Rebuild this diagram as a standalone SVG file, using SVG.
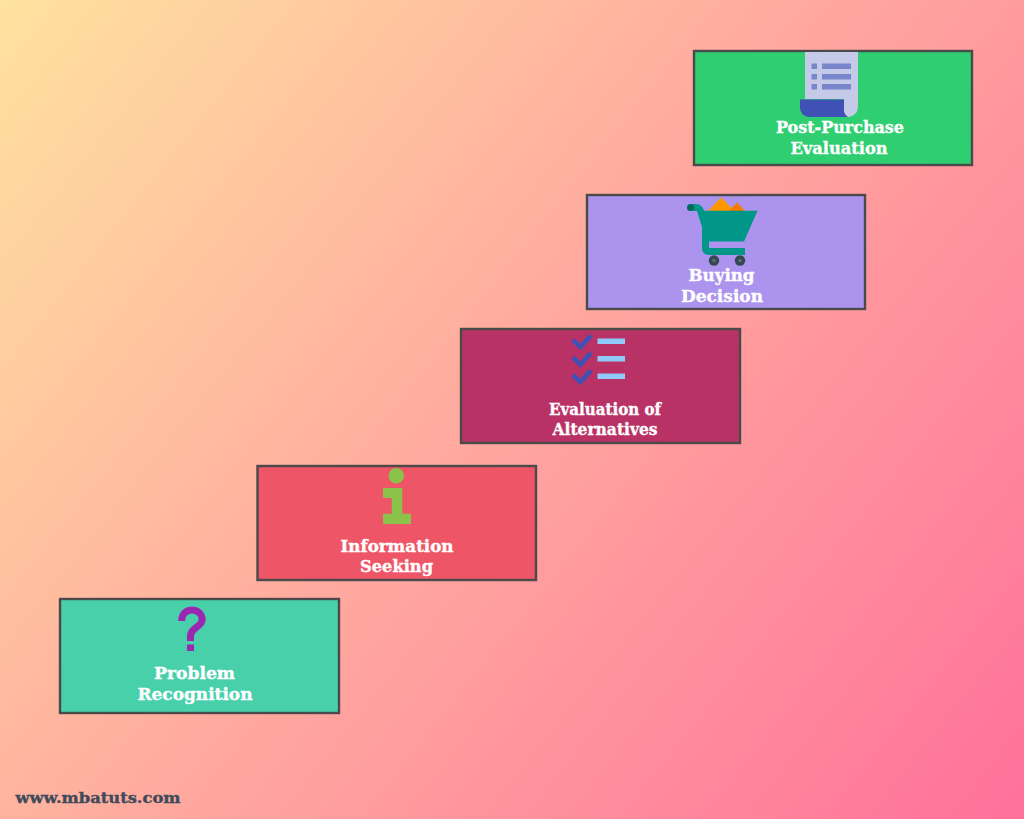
<svg xmlns="http://www.w3.org/2000/svg" width="1024" height="819" viewBox="0 0 1024 819">
  <defs>
    <linearGradient id="bg" gradientUnits="userSpaceOnUse" x1="0" y1="0" x2="1024" y2="819">
      <stop offset="0" stop-color="#FFE29F"/>
      <stop offset="0.48" stop-color="#FFA99F"/>
      <stop offset="1" stop-color="#FF719A"/>
    </linearGradient>
  </defs>
  <style>
    .box { stroke: #4a4a4a; stroke-width: 2.4; }
    .t { font-family: "DejaVu Serif", "Liberation Serif", serif; font-weight: 700; font-size: 16px; fill: #fff; stroke: #fff; stroke-width: 0.35; text-anchor: middle; }
    .check { fill: none; stroke: #3F51B5; stroke-width: 4.6; }
    .bar { fill: #90CAF9; }
    .doc { fill: #7986CB; }
  </style>
  <rect width="1024" height="819" fill="url(#bg)"/>
  <g id="connectors"/>

  <g id="node-post-purchase">
    <rect class="box" x="694" y="51" width="278" height="114" fill="#2ECE71"/>
    <path d="M805 52H858V107A10 10 0 0 1 848 117H844V99H805Z" fill="#C5CAE9"/>
    <path d="M800 99.5H844V107A10 10 0 0 0 848 117H809A9 9 0 0 1 800 108Z" fill="#3F51B5"/>
    <rect class="doc" x="811.5" y="63.5" width="5.5" height="5.5"/>
    <rect class="doc" x="811.5" y="74" width="5.5" height="5.5"/>
    <rect class="doc" x="811.5" y="84" width="5.5" height="5.5"/>
    <rect class="doc" x="822" y="63.5" width="29" height="5.5"/>
    <rect class="doc" x="822" y="74" width="29" height="5.5"/>
    <rect class="doc" x="822" y="84" width="29" height="5.5"/>
    <text class="t" x="840" y="133" textLength="128" lengthAdjust="spacingAndGlyphs">Post-Purchase</text>
    <text class="t" x="839" y="154" textLength="97" lengthAdjust="spacingAndGlyphs">Evaluation</text>
  </g>

  <g id="node-buying">
    <rect class="box" x="587" y="195" width="278" height="114" fill="#AB93EE"/>
    <path d="M708 211L721 197.5L735 211Z" fill="#FF9800"/>
    <path d="M729 211L737 202.5L745 211Z" fill="#F57C00"/>
    <path d="M690.5 204H696Q702 204 704 210.7H757.5L744 241.5H709V248H745V255H709Q702 255 702 248V227L697 211H690.5Z" fill="#009688"/>
    <circle cx="690.5" cy="207.5" r="3.5" fill="#00695C"/>
    <circle cx="714" cy="260.5" r="5.2" fill="#37474F"/>
    <circle cx="740" cy="260.5" r="5.2" fill="#37474F"/>
    <circle cx="714" cy="260.5" r="1.8" fill="#546E7A"/>
    <circle cx="740" cy="260.5" r="1.8" fill="#546E7A"/>
    <text class="t" x="721.5" y="280.5" textLength="66" lengthAdjust="spacingAndGlyphs">Buying</text>
    <text class="t" x="722" y="302" textLength="82" lengthAdjust="spacingAndGlyphs">Decision</text>
  </g>

  <g id="node-evaluation">
    <rect class="box" x="461" y="329" width="279" height="114" fill="#B83265"/>
    <path class="check" d="M573 340L580.5 347L591 335.5"/>
    <path class="check" d="M573 357.5L580.5 364.5L591 353"/>
    <path class="check" d="M573 375L580.5 382L591 370.5"/>
    <rect class="bar" x="597.5" y="338.5" width="27.5" height="5.5"/>
    <rect class="bar" x="597.5" y="356" width="27.5" height="5.5"/>
    <rect class="bar" x="597.5" y="373.5" width="27.5" height="5.5"/>
    <text class="t" x="605" y="415" textLength="112" lengthAdjust="spacingAndGlyphs">Evaluation of</text>
    <text class="t" x="605" y="434.5" textLength="105" lengthAdjust="spacingAndGlyphs">Alternatives</text>
  </g>

  <g id="node-information">
    <rect class="box" x="257.5" y="466" width="278.5" height="114" fill="#EE5566"/>
    <circle cx="396.3" cy="475.7" r="7.7" fill="#8BC34A"/>
    <path d="M383 488H402.3V513.7H411V524H383V513.7H391.7V498H383Z" fill="#8BC34A"/>
    <text class="t" x="397" y="551.5" textLength="113" lengthAdjust="spacingAndGlyphs">Information</text>
    <text class="t" x="396.5" y="572" textLength="73" lengthAdjust="spacingAndGlyphs">Seeking</text>
  </g>

  <g id="node-problem">
    <rect class="box" x="60" y="599" width="279" height="114" fill="#48D0AB"/>
    <path d="M181.8 621V619.5A10.2 9.5 0 0 1 202.2 619.5C202.2 627 190.5 627.5 190.5 636V641" fill="none" stroke="#9C27B0" stroke-width="7"/>
    <rect x="187" y="644.5" width="7" height="6.5" fill="#9C27B0"/>
    <text class="t" x="194.5" y="678.5" textLength="81" lengthAdjust="spacingAndGlyphs">Problem</text>
    <text class="t" x="195" y="700" textLength="115" lengthAdjust="spacingAndGlyphs">Recognition</text>
  </g>

  <text x="98" y="803" textLength="165" lengthAdjust="spacingAndGlyphs" style="font-family:'DejaVu Serif','Liberation Serif',serif;font-weight:700;font-size:14.5px;fill:#3f4a5a;stroke:#3f4a5a;stroke-width:0.35;text-anchor:middle">www.mbatuts.com</text>
</svg>
